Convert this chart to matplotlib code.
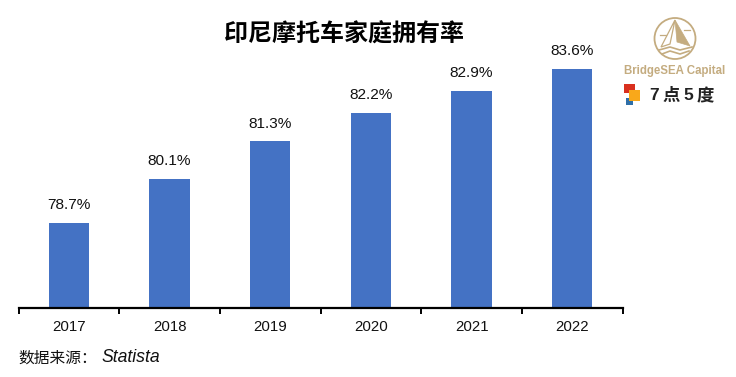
import matplotlib
matplotlib.use("Agg")
import matplotlib.pyplot as plt
from matplotlib.patches import Circle, Polygon, Rectangle

plt.rcParams['font.family'] = ['Liberation Sans', 'Noto Sans CJK SC', 'DejaVu Sans']

years = ['2017', '2018', '2019', '2020', '2021', '2022']
rates = [78.7, 80.1, 81.3, 82.2, 82.9, 83.6]

W, H = 736, 377
BLUE = '#4472C4'
GOLD = '#C4AC80'

fig = plt.figure(figsize=(W / 100, H / 100), dpi=100)

# ejes en la misma posicion que la referencia (pixeles)
ax = fig.add_axes([18.6 / W, 1 - 308 / H, 604 / W, 290 / H])
x = list(range(len(years)))
ax.bar(x, rates, width=0.4, color=BLUE)
ax.set_xlim(-0.5, 5.5)
ax.set_ylim(76.0, 76.0 + 290 / 31.43)
for xi, r in zip(x, rates):
    ax.text(xi, r + 0.34, "{0:.1f}%".format(r), ha='center', va='bottom', fontsize=11.1, color='#111111')

for s in ['top', 'left', 'right']:
    ax.spines[s].set_visible(False)
ax.spines['bottom'].set_linewidth(1.6)
ax.set_yticks([])
ax.set_xticks([i - 0.5 for i in range(len(years) + 1)], labels=[''] * (len(years) + 1))
ax.tick_params(axis='x', length=4.5, width=1.4, color='black')
for xi, y in zip(x, years):
    ax.annotate(y, (xi, 0), xycoords=('data', 'axes fraction'), xytext=(0, -13.5), textcoords='offset points',
                ha='center', va='center', fontsize=10.8, color='#111111')

# capa en pixeles para titulo, fuente y logos
ov = fig.add_axes([0, 0, 1, 1], zorder=5)
ov.set_xlim(0, W)
ov.set_ylim(H, 0)
ov.axis('off')
ov.patch.set_alpha(0)

ov.text(344, 35, '印尼摩托车家庭拥有率', ha='center', va='center', fontsize=17.3, fontweight='bold', color='black')
ov.text(18, 358, '数据来源：', ha='left', va='center', fontsize=11.3, color='#111111')
ov.text(101, 357, 'Statista', ha='left', va='center', fontsize=12.7, style='italic', color='#111111')

# logo BridgeSEA
ov.add_patch(Circle((675, 38.5), 20.5, fill=False, ec=GOLD, lw=1.3))
ov.add_patch(Polygon([(675, 20), (670, 44), (661, 47)], closed=True, fc='white', ec=GOLD, lw=0.9))
ov.add_patch(Polygon([(675, 20), (690, 46), (677, 42)], closed=True, fc=GOLD, ec=GOLD, lw=0.5))
ov.plot([659, 670, 680, 692], [50, 47, 50, 47], color=GOLD, lw=1.2)
ov.plot([662, 670, 680, 689], [54, 51, 54, 51], color=GOLD, lw=1.2)
ov.plot([660, 666], [35, 35], color=GOLD, lw=0.9)
ov.plot([684, 690], [30, 30], color=GOLD, lw=0.9)
ov.text(674.5, 71, 'BridgeSEA Capital', ha='center', va='center', fontsize=8.3, fontweight='bold', color=GOLD)

# logo 7点5度
ov.add_patch(Rectangle((624, 84), 11, 9, fc='#D9301F', ec='none'))
ov.add_patch(Rectangle((626, 98), 7, 7, fc='#2F6FA8', ec='none'))
ov.add_patch(Rectangle((629, 90), 11, 11, fc='#F9A81A', ec='none'))
for cx, ch in zip([654, 671, 688, 705], '7点5度'):
    ov.text(cx, 96, ch, ha='center', va='center', fontsize=12.5, fontweight='bold', color='#222222')

fig.savefig('out.png', dpi=100)
